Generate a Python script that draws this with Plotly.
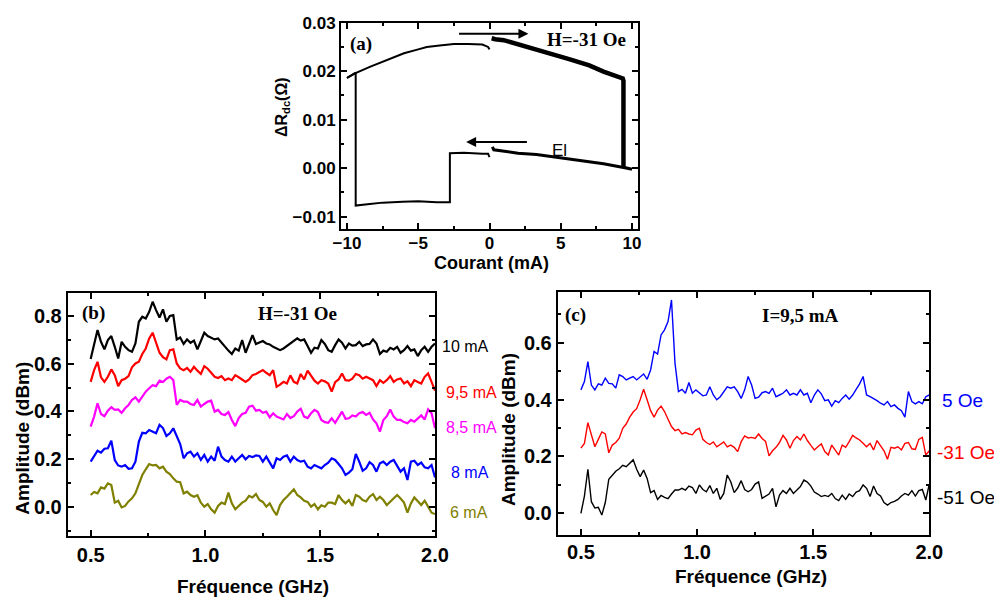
import plotly.graph_objects as go

# ---------------- data ----------------
# Panel (a): hysteresis loop dR_dc vs current
A_UP_RIGHT_I = [0.15, 0.4, 1.0, 2.0, 3.3, 4.5, 5.7, 7.0, 8.0, 9.0, 9.35, 9.4, 9.4]
A_UP_RIGHT_R = [0.0268, 0.0266, 0.0264, 0.0255, 0.0243, 0.0234, 0.0224, 0.0212, 0.0199, 0.0190, 0.0185, 0.0180, 0.0002]
A_LOW_RIGHT_I = [9.4, 10.0, 9.5, 8.0, 6.8, 5.7, 4.5, 3.3, 2.0, 1.0, 0.3, 0.2]
A_LOW_RIGHT_R = [0.0002, -0.0002, 0.0001, 0.0009, 0.0014, 0.0019, 0.0023, 0.0028, 0.0031, 0.0035, 0.0038, 0.0044]
A_LOW_LEFT_I = [0.0, -0.1, -0.5, -1.0, -1.8, -2.78, -2.78, -3.7, -5.0, -6.1, -7.5, -8.4, -9.39, -9.39, -10.0]
A_LOW_LEFT_R = [0.0023, 0.0030, 0.0030, 0.0031, 0.0032, 0.0031, -0.0070, -0.0070, -0.0068, -0.0069, -0.0071, -0.0074, -0.0077, 0.0197, 0.0186]
A_UP_LEFT_I = [-10.0, -9.4, -8.4, -7.0, -6.0, -5.0, -4.4, -3.5, -2.5, -1.5, -0.5, -0.1, 0.0]
A_UP_LEFT_R = [0.0186, 0.0196, 0.0209, 0.0226, 0.0237, 0.0245, 0.0250, 0.0253, 0.0256, 0.0256, 0.0255, 0.0250, 0.0245]

# Frequency sampling grid (GHz) for panels (b) and (c)
FREQ = [round(0.5 + 0.015 * i, 3) for i in range(101)]

# Panel (b): H = -31 Oe, several currents
B_10 = [0.620, 0.685, 0.741, 0.692, 0.660, 0.699, 0.716, 0.671, 0.622, 0.692, 0.671, 0.657, 0.650, 0.685, 0.776,
        0.797, 0.790, 0.818, 0.860, 0.825, 0.794, 0.828, 0.776, 0.800, 0.804, 0.702, 0.710, 0.683, 0.702, 0.688,
        0.697, 0.660, 0.699, 0.730, 0.716, 0.710, 0.702, 0.706, 0.688, 0.671, 0.655, 0.641, 0.664, 0.655, 0.699,
        0.646, 0.685, 0.720, 0.683, 0.688, 0.695, 0.685, 0.681, 0.671, 0.664, 0.657, 0.664, 0.674, 0.685, 0.695,
        0.706, 0.697, 0.702, 0.674, 0.646, 0.667, 0.664, 0.699, 0.683, 0.657, 0.650, 0.678, 0.702, 0.688, 0.664,
        0.685, 0.676, 0.678, 0.692, 0.674, 0.681, 0.683, 0.702, 0.685, 0.641, 0.655, 0.650, 0.667, 0.660, 0.671,
        0.646, 0.657, 0.674, 0.655, 0.660, 0.632, 0.657, 0.671, 0.650, 0.671, 0.685]
B_95 = [0.524, 0.573, 0.608, 0.543, 0.524, 0.545, 0.576, 0.552, 0.506, 0.531, 0.537, 0.548, 0.585, 0.601, 0.608,
        0.641, 0.664, 0.706, 0.730, 0.685, 0.646, 0.627, 0.618, 0.657, 0.660, 0.601, 0.580, 0.573, 0.582, 0.566,
        0.587, 0.571, 0.557, 0.590, 0.579, 0.562, 0.545, 0.540, 0.548, 0.531, 0.538, 0.531, 0.552, 0.543, 0.534,
        0.524, 0.534, 0.552, 0.557, 0.565, 0.573, 0.562, 0.552, 0.573, 0.503, 0.512, 0.524, 0.517, 0.551, 0.524,
        0.517, 0.557, 0.534, 0.571, 0.548, 0.529, 0.517, 0.531, 0.526, 0.517, 0.483, 0.523, 0.534, 0.559, 0.531,
        0.529, 0.537, 0.557, 0.552, 0.537, 0.545, 0.537, 0.531, 0.506, 0.531, 0.520, 0.531, 0.548, 0.524, 0.534,
        0.538, 0.517, 0.526, 0.506, 0.531, 0.523, 0.517, 0.545, 0.559, 0.524, 0.487]
B_85 = [0.336, 0.378, 0.434, 0.389, 0.380, 0.403, 0.417, 0.406, 0.408, 0.394, 0.413, 0.427, 0.448, 0.459, 0.441,
        0.462, 0.483, 0.497, 0.510, 0.506, 0.529, 0.523, 0.537, 0.545, 0.531, 0.427, 0.448, 0.441, 0.441, 0.431,
        0.427, 0.448, 0.420, 0.431, 0.441, 0.445, 0.399, 0.406, 0.389, 0.385, 0.397, 0.364, 0.338, 0.372, 0.389,
        0.394, 0.420, 0.424, 0.403, 0.406, 0.394, 0.399, 0.375, 0.392, 0.378, 0.372, 0.366, 0.389, 0.372, 0.380,
        0.399, 0.411, 0.378, 0.372, 0.392, 0.406, 0.397, 0.364, 0.355, 0.352, 0.371, 0.352, 0.378, 0.399, 0.369,
        0.371, 0.383, 0.378, 0.392, 0.397, 0.385, 0.394, 0.366, 0.350, 0.315, 0.364, 0.380, 0.408, 0.378, 0.364,
        0.364, 0.355, 0.350, 0.364, 0.357, 0.372, 0.383, 0.366, 0.408, 0.392, 0.329]
B_8 = [0.189, 0.213, 0.235, 0.227, 0.243, 0.245, 0.277, 0.196, 0.173, 0.168, 0.175, 0.159, 0.161, 0.189, 0.273,
       0.310, 0.308, 0.322, 0.315, 0.308, 0.343, 0.330, 0.297, 0.308, 0.329, 0.294, 0.263, 0.203, 0.224, 0.231,
       0.210, 0.224, 0.196, 0.217, 0.189, 0.210, 0.193, 0.252, 0.210, 0.196, 0.189, 0.210, 0.189, 0.203, 0.217,
       0.199, 0.213, 0.208, 0.215, 0.213, 0.189, 0.210, 0.187, 0.161, 0.203, 0.196, 0.210, 0.215, 0.189, 0.210,
       0.196, 0.189, 0.193, 0.168, 0.161, 0.175, 0.168, 0.161, 0.175, 0.185, 0.203, 0.196, 0.179, 0.161, 0.133,
       0.143, 0.157, 0.221, 0.189, 0.151, 0.161, 0.187, 0.175, 0.147, 0.182, 0.189, 0.175, 0.189, 0.196, 0.171,
       0.147, 0.161, 0.112, 0.189, 0.193, 0.175, 0.185, 0.165, 0.161, 0.175, 0.123]
B_6 = [0.049, 0.062, 0.056, 0.081, 0.076, 0.098, 0.091, 0.017, 0.025, -0.003, 0.003, 0.022, 0.035, 0.056, 0.095,
       0.133, 0.157, 0.179, 0.173, 0.175, 0.161, 0.168, 0.147, 0.137, 0.119, 0.105, 0.103, 0.056, 0.063, 0.049,
       0.042, 0.048, 0.017, 0.000, 0.011, -0.011, -0.025, 0.003, 0.017, 0.011, 0.059, 0.014, -0.011, 0.003, 0.017,
       0.025, 0.045, 0.039, 0.053, 0.028, 0.020, 0.000, 0.014, -0.014, -0.035, 0.007, 0.028, 0.042, 0.056, 0.073,
       0.049, 0.039, 0.025, 0.020, 0.000, 0.011, -0.011, 0.006, 0.000, 0.017, 0.017, 0.011, 0.049, 0.028, 0.014,
       0.028, 0.003, 0.049, 0.042, 0.028, 0.022, 0.042, 0.053, 0.028, 0.042, 0.028, 0.007, 0.021, 0.035, 0.049,
       0.034, 0.017, -0.025, 0.014, 0.039, 0.021, 0.007, 0.025, 0.000, -0.025, -0.031]

# Panel (c): I = 9,5 mA, several fields
C_5 = [0.434, 0.463, 0.533, 0.451, 0.434, 0.455, 0.451, 0.475, 0.457, 0.455, 0.440, 0.487, 0.481, 0.469, 0.475,
       0.481, 0.469, 0.481, 0.490, 0.471, 0.504, 0.569, 0.560, 0.627, 0.645, 0.674, 0.750, 0.528, 0.428, 0.436,
       0.422, 0.460, 0.422, 0.434, 0.422, 0.413, 0.416, 0.445, 0.416, 0.399, 0.410, 0.428, 0.445, 0.440, 0.445,
       0.428, 0.404, 0.434, 0.481, 0.451, 0.404, 0.408, 0.424, 0.428, 0.422, 0.440, 0.410, 0.416, 0.422, 0.434,
       0.416, 0.422, 0.416, 0.434, 0.416, 0.422, 0.389, 0.416, 0.434, 0.420, 0.396, 0.399, 0.377, 0.396, 0.389,
       0.404, 0.416, 0.401, 0.416, 0.436, 0.455, 0.481, 0.416, 0.410, 0.404, 0.396, 0.387, 0.381, 0.393, 0.375,
       0.381, 0.369, 0.361, 0.338, 0.428, 0.393, 0.385, 0.393, 0.385, 0.410, 0.416]
C_M31 = [0.229, 0.246, 0.319, 0.279, 0.234, 0.260, 0.286, 0.279, 0.213, 0.240, 0.249, 0.264, 0.299, 0.314, 0.338,
         0.356, 0.368, 0.399, 0.436, 0.399, 0.361, 0.338, 0.363, 0.377, 0.358, 0.331, 0.305, 0.291, 0.295, 0.279,
         0.284, 0.279, 0.276, 0.293, 0.299, 0.260, 0.249, 0.242, 0.251, 0.234, 0.242, 0.251, 0.234, 0.240, 0.232,
         0.217, 0.252, 0.272, 0.265, 0.267, 0.263, 0.279, 0.263, 0.253, 0.202, 0.220, 0.232, 0.249, 0.274, 0.258,
         0.229, 0.256, 0.270, 0.258, 0.279, 0.256, 0.239, 0.223, 0.234, 0.244, 0.217, 0.205, 0.240, 0.220, 0.205,
         0.240, 0.232, 0.252, 0.274, 0.265, 0.258, 0.246, 0.234, 0.246, 0.223, 0.256, 0.239, 0.220, 0.190, 0.232,
         0.229, 0.234, 0.223, 0.246, 0.249, 0.227, 0.225, 0.260, 0.267, 0.205, 0.220]
C_M51 = [0.000, 0.061, 0.155, 0.041, 0.019, 0.021, -0.006, 0.038, 0.120, 0.135, 0.148, 0.157, 0.169, 0.164, 0.178,
         0.188, 0.155, 0.129, 0.152, 0.123, 0.073, 0.080, 0.049, 0.063, 0.056, 0.052, 0.068, 0.082, 0.082, 0.088,
         0.082, 0.096, 0.091, 0.070, 0.100, 0.084, 0.076, 0.098, 0.070, 0.088, 0.049, 0.070, 0.135, 0.111, 0.073,
         0.089, 0.115, 0.084, 0.076, 0.084, 0.103, 0.111, 0.053, 0.061, 0.068, 0.088, 0.023, 0.064, 0.080, 0.070,
         0.088, 0.070, 0.082, 0.094, 0.117, 0.110, 0.096, 0.075, 0.068, 0.059, 0.063, 0.059, 0.070, 0.052, 0.045,
         0.064, 0.049, 0.068, 0.059, 0.075, 0.080, 0.100, 0.088, 0.059, 0.096, 0.070, 0.061, 0.038, 0.029, 0.038,
         0.042, 0.049, 0.061, 0.070, 0.064, 0.080, 0.061, 0.080, 0.084, 0.047, 0.103]

B_SERIES = [("10 mA", B_10, "#000000"), ("9,5 mA", B_95, "#ff0000"), ("8,5 mA", B_85, "#ff00ff"),
            ("8 mA", B_8, "#0000ff"), ("6 mA", B_6, "#808000")]
C_SERIES = [("5 Oe", C_5, "#0000ff"), ("-31 Oe", C_M31, "#ff0000"), ("-51 Oe", C_M51, "#000000")]

# label anchor positions (pixels from top-left of the figure)
B_LABEL_PX = [(440, 346), (444, 392), (444, 427), (449, 473), (448, 512)]
C_LABEL_PX = [(940, 400), (935, 452), (935, 498)]

# ---------------- figure ----------------
W, H = 994, 597
fig = go.Figure()

# panel (a)
fig.add_trace(go.Scatter(x=A_UP_LEFT_I, y=A_UP_LEFT_R, mode="lines", line=dict(color="black", width=2),
                         xaxis="x", yaxis="y", showlegend=False))
fig.add_trace(go.Scatter(x=A_LOW_LEFT_I, y=A_LOW_LEFT_R, mode="lines", line=dict(color="black", width=2),
                         xaxis="x", yaxis="y", showlegend=False))
fig.add_trace(go.Scatter(x=A_LOW_RIGHT_I, y=A_LOW_RIGHT_R, mode="lines", line=dict(color="black", width=3),
                         xaxis="x", yaxis="y", showlegend=False))
fig.add_trace(go.Scatter(x=A_UP_RIGHT_I, y=A_UP_RIGHT_R, mode="lines", line=dict(color="black", width=4.5),
                         xaxis="x", yaxis="y", showlegend=False))

# panel (b)
for name, vals, col in B_SERIES:
    fig.add_trace(go.Scatter(x=FREQ, y=vals, mode="lines", line=dict(color=col, width=2.2),
                             xaxis="x2", yaxis="y2", name=name, showlegend=False))
# panel (c)
for name, vals, col in C_SERIES:
    fig.add_trace(go.Scatter(x=FREQ, y=vals, mode="lines", line=dict(color=col, width=1.4),
                             xaxis="x3", yaxis="y3", name=name, showlegend=False))

TICKFONT = dict(family="Liberation Sans", color="black", weight="bold")


def axis(domain, rng, dtick, mdtick, fmt, anchor, fsize, tick0=0, standoff=0):
    return dict(domain=domain, range=rng, tick0=tick0, dtick=dtick, tickformat=fmt, anchor=anchor,
                ticks="inside", ticklen=6, tickwidth=1.5, tickcolor="black", mirror="allticks",
                showline=True, linecolor="black", linewidth=2, showgrid=False, zeroline=False,
                automargin=False, ticklabelstandoff=standoff,
                minor=dict(ticks="inside", ticklen=3, tickwidth=1.5, tickcolor="black", dtick=mdtick,
                           showgrid=False),
                tickfont=dict(TICKFONT, size=fsize))


def px_x(p):
    return p / W


def px_y(p):
    return 1 - p / H


fig.update_layout(
    width=W, height=H, margin=dict(l=0, r=0, t=0, b=0, pad=0, autoexpand=False),
    paper_bgcolor="white", plot_bgcolor="white",
    xaxis=axis([px_x(341), px_x(638)], [-10.42, 10.42], 5, 2.5, "d", "y", 17, standoff=-3),
    yaxis=axis([px_y(229.3), px_y(22.7)], [-0.0126, 0.030], 0.01, 0.005, ".2f", "x", 17),
    xaxis2=axis([px_x(67.7), px_x(435)], [0.4, 2.0], 0.5, 0.25, ".1f", "y2", 20),
    yaxis2=axis([px_y(536), px_y(292.7)], [-0.123, 0.898], 0.2, 0.1, ".1f", "x2", 20),
    xaxis3=axis([px_x(557.7), px_x(929.3)], [0.4, 2.0], 0.5, 0.25, ".1f", "y3", 20, standoff=-2),
    yaxis3=axis([px_y(535), px_y(291.7)], [-0.076, 0.779], 0.2, 0.1, ".1f", "x3", 20),
)

ann = []
SERIF = dict(family="Liberation Serif", color="black", size=19, weight="bold")
SANSB = dict(family="Liberation Sans", color="black", size=17, weight="bold")


def label(x, y, text, font, xref="paper", yref="paper", xanchor="center", **kw):
    return dict(x=x, y=y, xref=xref, yref=yref, text=text, showarrow=False, font=font,
                xanchor=xanchor, yanchor="middle", **kw)


# panel labels / conditions
ann.append(label(-8.99, 0.0257, "(a)", SERIF, "x", "y"))
ann.append(label(6.79, 0.0266, "H=-31 Oe", SERIF, "x", "y"))
ann.append(label(4.89, 0.0037, "El", dict(family="Liberation Sans", color="black", size=17), "x", "y"))
ann.append(label(0.514, 0.812, "(b)", SERIF, "x2", "y2"))
ann.append(label(1.403, 0.812, "H=-31 Oe", SERIF, "x2", "y2"))
ann.append(label(px_x(575), px_y(315), "(c)", SERIF))
ann.append(label(1.444, 0.697, "I=9,5 mA", SERIF, "x3", "y3"))

# arrows in (a)
ann.append(dict(x=2.73, y=0.0277, ax=-2.24, ay=0.0277, xref="x", yref="y", axref="x", ayref="y",
                showarrow=True, arrowhead=2, arrowsize=1, arrowwidth=2, arrowcolor="black", text=""))
ann.append(dict(x=-1.64, y=0.0054, ax=2.73, ay=0.0054, xref="x", yref="y", axref="x", ayref="y",
                showarrow=True, arrowhead=2, arrowsize=1, arrowwidth=2, arrowcolor="black", text=""))

# series labels
for (name, _, col), (lx, ly) in zip(B_SERIES, B_LABEL_PX):
    ann.append(label(px_x(lx), px_y(ly), name, dict(family="Liberation Sans", color=col, size=16),
                     xanchor="left"))
for (name, _, col), (lx, ly) in zip(C_SERIES, C_LABEL_PX):
    ann.append(label(px_x(lx), px_y(ly), name, dict(family="Liberation Sans", color=col, size=19),
                     xanchor="left"))

# axis titles
ann.append(label(px_x(491.7), px_y(263), "Courant (mA)", dict(SANSB, size=18)))
ann.append(label(px_x(283), px_y(107), "ΔR<sub>dc</sub>(Ω)", dict(SANSB, size=16), textangle=-90))
ann.append(label(px_x(253), px_y(586.7), "Fréquence (GHz)", dict(SANSB, size=19)))
ann.append(label(px_x(21.7), px_y(438), "Amplitude (dBm)", dict(SANSB, size=19), textangle=-90))
ann.append(label(px_x(751), px_y(576), "Fréquence (GHz)", dict(SANSB, size=19)))
ann.append(label(px_x(508), px_y(430), "Amplitude (dBm)", dict(SANSB, size=19), textangle=-90))

fig.update_layout(annotations=ann)
fig.write_html("out.html", config={"displayModeBar": False},
               post_script="document.body.style.margin='0';document.body.style.overflow='hidden';")
